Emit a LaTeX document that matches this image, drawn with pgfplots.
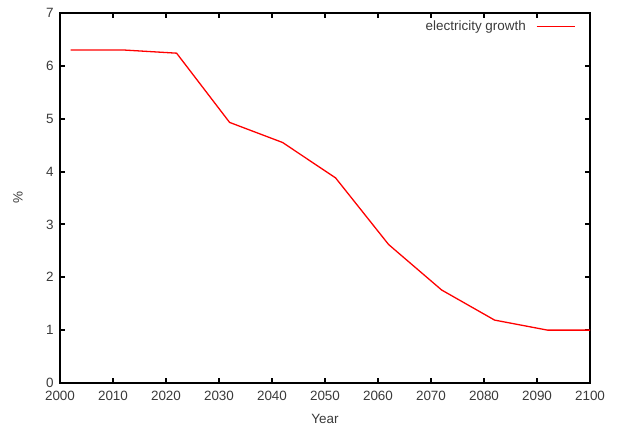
\documentclass[border=0pt]{standalone}
\usepackage{pgfplots}
\pgfplotsset{compat=1.18}
\usepackage{fontspec}
\setmainfont{Liberation Sans}
\definecolor{txtgray}{HTML}{3A3A3A}
\begin{document}
\begin{tikzpicture}
\useasboundingbox (-60bp,-43bp) rectangle (560bp,383bp);
\begin{axis}[
  at={(0,0)}, anchor=south west,
  scale only axis,
  width=530bp, height=370bp,
  xmin=2000, xmax=2100, ymin=0, ymax=7,
  xtick={2000,2010,...,2100},
  ytick={0,1,...,7},
  /pgf/number format/assume math mode=true,
  xticklabel style={/pgf/number format/1000 sep={}, yshift=-5bp},
  yticklabel style={xshift=-3bp},
  tick label style={font=\fontsize{13.5}{15}\selectfont, text=txtgray},
  label style={font=\fontsize{13.5}{15}\selectfont, text=txtgray},
  xlabel={Year}, ylabel={\%},
  xlabel style={at={(0.5,0)}, anchor=base, yshift=-40bp},
  ylabel style={at={(0,0.5)}, anchor=center, yshift=42bp},
  axis line style={line width=2.2bp},
  tick style={line width=2bp, black},
  major tick length=5bp,
  tick align=inside,
  xtick pos=both, ytick pos=both,
  legend plot pos=right,
  legend image code/.code={\path (0bp,0bp); \draw[#1] (8bp,0bp) -- (46bp,0bp);},
  legend style={at={(0.978,0.99)}, anchor=north east, draw=none, fill=none,
    font=\fontsize{13.5}{15}\selectfont, text=txtgray},
  legend cell align=right,
]
\addplot[red, line width=1.3bp] coordinates {
  (2002,6.30) (2012,6.30) (2022,6.24) (2032,4.93) (2042,4.55)
  (2052,3.88) (2062,2.62) (2072,1.76) (2082,1.19) (2092,1.00) (2100,1.00)
};
\addlegendentry{electricity growth}
\end{axis}
\end{tikzpicture}
\end{document}
